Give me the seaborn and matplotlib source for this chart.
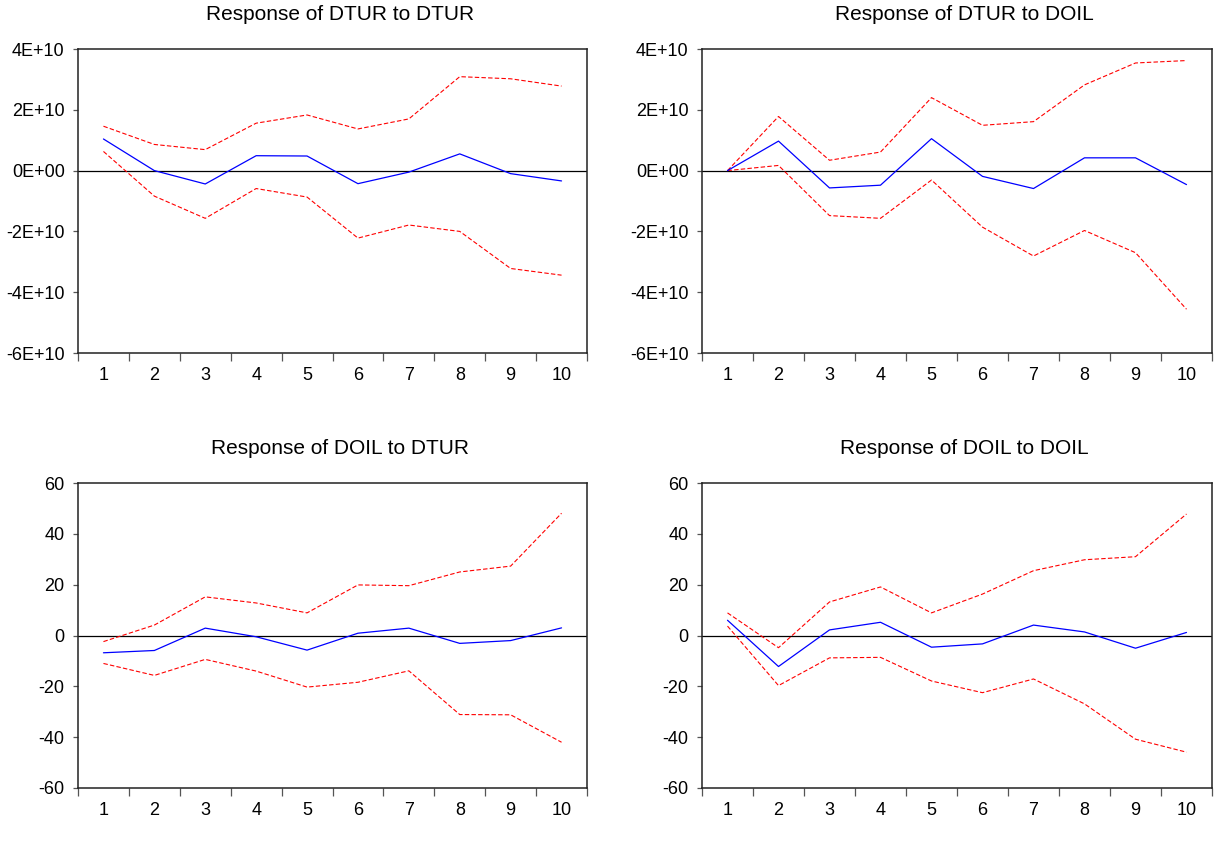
import numpy as np
import pandas as pd
import matplotlib
matplotlib.use("Agg")
import matplotlib.pyplot as plt
import seaborn as sns
from matplotlib.ticker import FuncFormatter, FixedLocator

periods = list(range(1, 11))

# Response of DTUR to DTUR
dtur_dtur = [1.04e10, 0.0, -0.44e10, 0.49e10, 0.48e10, -0.43e10, -0.05e10, 0.55e10, -0.10e10, -0.34e10]
dtur_dtur_hi = [1.46e10, 0.86e10, 0.69e10, 1.56e10, 1.83e10, 1.37e10, 1.70e10, 3.09e10, 3.02e10, 2.78e10]
dtur_dtur_lo = [0.63e10, -0.84e10, -1.57e10, -0.59e10, -0.87e10, -2.22e10, -1.79e10, -2.00e10, -3.22e10, -3.44e10]

# Response of DTUR to DOIL
dtur_doil = [0.0, 0.97e10, -0.57e10, -0.48e10, 1.05e10, -0.19e10, -0.59e10, 0.42e10, 0.42e10, -0.46e10]
dtur_doil_hi = [0.0, 1.78e10, 0.34e10, 0.61e10, 2.40e10, 1.49e10, 1.61e10, 2.82e10, 3.54e10, 3.62e10]
dtur_doil_lo = [0.0, 0.17e10, -1.48e10, -1.57e10, -0.31e10, -1.86e10, -2.81e10, -1.97e10, -2.70e10, -4.56e10]

# Response of DOIL to DTUR
doil_dtur = [-6.8, -5.9, 2.9, -0.5, -5.75, 0.9, 2.9, -3.1, -2.0, 3.0]
doil_dtur_hi = [-2.4, 4.1, 15.2, 12.8, 8.9, 19.9, 19.6, 25.0, 27.3, 48.1]
doil_dtur_lo = [-11.0, -15.7, -9.4, -14.0, -20.3, -18.4, -13.9, -31.1, -31.2, -42.0]

# Response of DOIL to DOIL
doil_doil = [6.0, -12.2, 2.2, 5.2, -4.6, -3.3, 4.1, 1.4, -5.0, 1.2]
doil_doil_hi = [8.9, -4.8, 13.2, 19.1, 8.9, 16.3, 25.5, 29.8, 31.0, 47.8]
doil_doil_lo = [3.7, -19.7, -8.8, -8.6, -17.9, -22.5, -17.1, -26.9, -40.8, -45.9]

titles = ["Response of DTUR to DTUR", "Response of DTUR to DOIL",
          "Response of DOIL to DTUR", "Response of DOIL to DOIL"]
panels = [(dtur_dtur, dtur_dtur_hi, dtur_dtur_lo),
          (dtur_doil, dtur_doil_hi, dtur_doil_lo),
          (doil_dtur, doil_dtur_hi, doil_dtur_lo),
          (doil_doil, doil_doil_hi, doil_doil_lo)]
big_ticks = [-6e10, -4e10, -2e10, 0, 2e10, 4e10]
small_ticks = [-60, -40, -20, 0, 20, 40, 60]

sns.set_style("white")
plt.rcParams['font.family'] = ['Liberation Sans', 'DejaVu Sans']
plt.rcParams['text.color'] = 'black'
plt.rcParams['xtick.color'] = 'black'
plt.rcParams['ytick.color'] = 'black'

W, H = 1232, 848
fig = plt.figure(figsize=(W / 100, H / 100), dpi=100)

# axes boxes in pixels: left, top, right, bottom
boxes = [(78, 49, 587, 353), (702, 49, 1212, 353),
         (78, 483, 587, 788), (702, 483, 1212, 788)]

for i, (box, title, (resp, hi, lo)) in enumerate(zip(boxes, titles, panels)):
    l, t, r, b = box
    ax = fig.add_axes([l / W, 1 - b / H, (r - l) / W, (b - t) / H])
    df = pd.DataFrame({"period": periods, "resp": resp, "hi": hi, "lo": lo})

    ax.axhline(0, color="black", lw=0.9, zorder=1)
    sns.lineplot(data=df, x="period", y="hi", ax=ax, color="red", lw=0.8,
                 linestyle=(0, (4, 2)))
    sns.lineplot(data=df, x="period", y="lo", ax=ax, color="red", lw=0.8,
                 linestyle=(0, (4, 2)))
    sns.lineplot(data=df, x="period", y="resp", ax=ax, color="blue", lw=0.9)

    ax.set_xlim(0.5, 10.5)
    if i < 2:
        ax.set_ylim(-6e10, 4e10)
        ax.yaxis.set_major_locator(FixedLocator(big_ticks))
        ax.yaxis.set_major_formatter(FuncFormatter(lambda v, p: f"{v:.0E}"))
    else:
        ax.set_ylim(-60, 60)
        ax.yaxis.set_major_locator(FixedLocator(small_ticks))
        ax.yaxis.set_major_formatter(FuncFormatter(lambda v, p: f"{v:.0f}"))

    ax.set_xticks(periods)
    ax.set_xticks(np.arange(0.5, 11, 1), minor=True)
    ax.tick_params(axis="x", which="major", length=0, pad=10, labelsize=13)
    ax.tick_params(axis="x", which="minor", length=5.5, width=0.9,
                   color="#555555", direction="out", bottom=True)
    ax.tick_params(axis="y", length=3.6, width=0.9, color="#555555",
                   direction="out", left=True, pad=6, labelsize=13)

    for sp in ax.spines.values():
        sp.set_visible(True)
        sp.set_color("#222222")
        sp.set_linewidth(1.1)

    ax.set_xlabel("")
    ax.set_ylabel("")
    ax.set_title(title, x=0.515, pad=21, fontsize=15)

fig.savefig("out.png", dpi=100, facecolor="white")
